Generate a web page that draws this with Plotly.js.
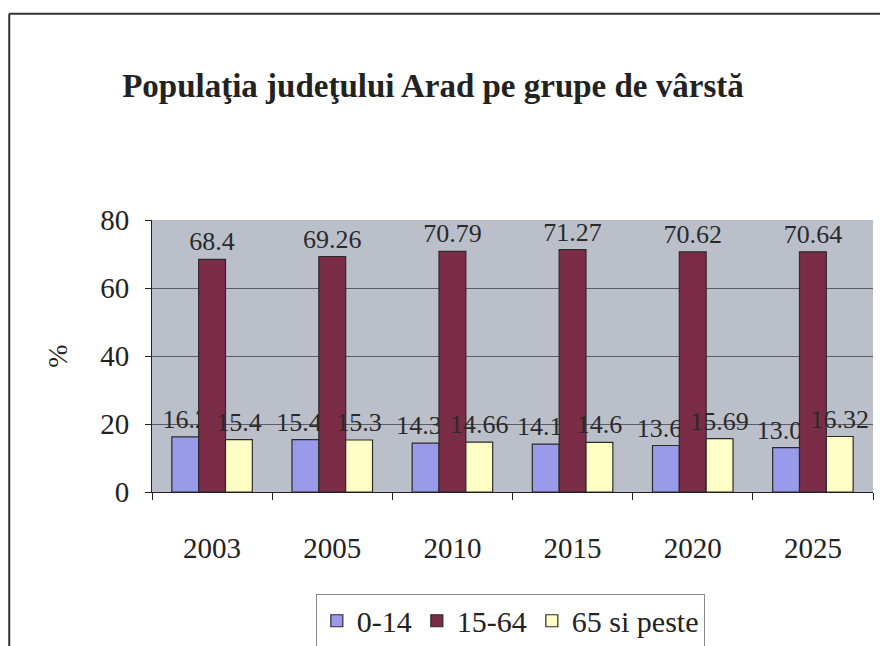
<!DOCTYPE html>
<html>
<head>
<meta charset="utf-8">
<script src="https://cdn.plot.ly/plotly-3.0.1.min.js"></script>
<style>
  html, body { margin: 0; padding: 0; background: #fff; }
  #chart { width: 880px; height: 646px; }
  #fontwarm { position: absolute; width: 1px; height: 1px; overflow: hidden; opacity: 0;
              font-family: 'Liberation Serif'; font-size: 20px; }
  #fontwarm b { font-weight: bold; }
</style>
</head>
<body>
<div id="fontwarm">0<b>P</b></div>
<div id="chart"></div>
<script>
// Populatia judetului Arad pe grupe de varsta (%)
const years = ['2003', '2005', '2010', '2015', '2020', '2025'];
const seriesNames = ['0-14', '15-64', '65 si peste'];
const age0_14 = [16.2, 15.43, 14.37, 14.11, 13.67, 13.03];
const age15_64 = [68.4, 69.26, 70.79, 71.27, 70.62, 70.64];
const age65plus = [15.4, 15.3, 14.66, 14.6, 15.69, 16.32];
const yTicks = [0, 20, 40, 60, 80];

const serif = 'Liberation Serif';
const colors = ['#9a9aea', '#7b2c47', '#ffffc6'];

const traces = [age0_14, age15_64, age65plus].map((vals, i) => ({
    type: 'bar',
    name: seriesNames[i],
    x: years,
    y: vals,
    text: vals.map(String),
    textposition: 'outside',
    constraintext: 'none',
    cliponaxis: false,
    textfont: { family: serif, size: 26, color: '#2a2a2a' },
    marker: { color: colors[i], line: { color: '#2b2b2b', width: 1.2 } },
    hoverinfo: 'x+y+name'
}));

const layout = {
    width: 880,
    height: 646,
    paper_bgcolor: '#ffffff',
    plot_bgcolor: '#bbbfca',
    margin: { l: 152, r: 7, t: 220, b: 154, autoexpand: false },
    barmode: 'group',
    bargap: 0.33,
    bargroupgap: 0,
    font: { family: serif, size: 26, color: '#222' },
    title: {
        text: '<b>Populaţia judeţului Arad pe grupe de vârstă</b>',
        font: { family: serif, size: 33, color: '#222' },
        x: 0.492,
        xanchor: 'center',
        y: 0.868,
        yanchor: 'middle'
    },
    xaxis: {
        type: 'category',
        showline: true,
        linecolor: '#222',
        linewidth: 1,
        ticks: 'outside',
        tickson: 'boundaries',
        ticklen: 7,
        tickcolor: '#222',
        ticklabelstandoff: 30,
        tickfont: { family: serif, size: 29, color: '#222' },
        showgrid: false
    },
    yaxis: {
        range: [0, 80],
        tickvals: yTicks,
        showline: true,
        linecolor: '#222',
        linewidth: 1,
        ticks: 'outside',
        ticklen: 6,
        tickcolor: '#222',
        ticklabelstandoff: 10,
        tickfont: { family: serif, size: 29, color: '#222' },
        gridcolor: '#5a5c66',
        gridwidth: 1,
        zeroline: false,
        title: { text: '%', font: { family: serif, size: 28, color: '#222' }, standoff: 24 }
    },
    legend: {
        orientation: 'h',
        x: 0.497,
        xanchor: 'center',
        y: -0.374,
        yanchor: 'top',
        bgcolor: '#ffffff',
        bordercolor: '#8a8a8a',
        borderwidth: 1,
        font: { family: serif, size: 30, color: '#222' }
    },
    shapes: [
        { type: 'line', xref: 'paper', yref: 'paper', x0: -0.198, x1: 1.02, y0: 1.758, y1: 1.758,
          line: { color: '#333', width: 2 } },
        { type: 'line', xref: 'paper', yref: 'paper', x0: -0.198, x1: -0.198, y0: 1.758, y1: -0.7,
          line: { color: '#333', width: 2 } }
    ]
};

Plotly.newPlot('chart', traces, layout, { displayModeBar: false });
</script>
</body>
</html>
